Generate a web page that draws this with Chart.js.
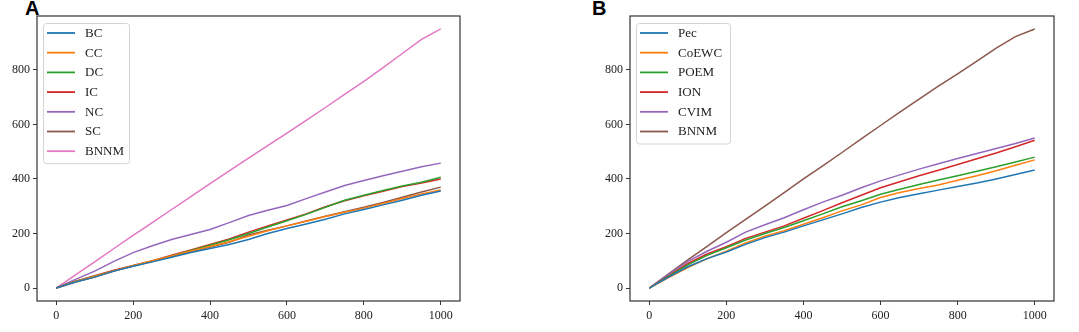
<!DOCTYPE html>
<html lang="en">
<head>
<meta charset="UTF-8">
<title>Cumulative curves A / B</title>
<script src="https://cdn.jsdelivr.net/npm/chart.js"></script>
<style>
  body { margin: 0; background: #fff; width: 1079px; height: 332px; position: relative; overflow: hidden; }
  .panel { position: absolute; top: 0; height: 332px; }
  #wrapA { left: 0; width: 540px; }
  #wrapB { left: 593px; width: 486px; }
  .tag { position: absolute; top: -3px; line-height: 23px; font: bold 20px "Liberation Sans", Arial, sans-serif; color: #000; }
</style>
</head>
<body>
<div class="tag" style="left:25px">A</div>
<div class="tag" style="left:592px">B</div>
<div class="panel" id="wrapA"><canvas id="chartA" width="540" height="332"></canvas></div>
<div class="panel" id="wrapB"><canvas id="chartB" width="486" height="332"></canvas></div>

<script>
// x positions (every 50 steps)
const steps = [0, 50, 100, 150, 200, 250, 300, 350, 400, 450, 500, 550, 600, 650, 700, 750, 800, 850, 900, 950, 1000];
const xTicks = [0, 200, 400, 600, 800, 1000];
const yTicks = [0, 200, 400, 600, 800];

// panel A
const labelsA = ['BC', 'CC', 'DC', 'IC', 'NC', 'SC', 'BNNM'];
const bcA   = [0, 22, 40, 62, 80, 96, 113, 130, 145, 160, 178, 200, 218, 235, 252, 272, 288, 305, 322, 340, 356];
const ccA   = [0, 23, 42, 63, 82, 100, 118, 136, 152, 170, 190, 210, 228, 245, 262, 278, 293, 310, 328, 345, 360];
const dcA   = [0, 24, 43, 63, 82, 98, 118, 138, 157, 177, 200, 224, 247, 270, 296, 322, 340, 358, 374, 388, 406];
const icA   = [0, 25, 45, 65, 83, 100, 120, 140, 160, 180, 205, 228, 250, 272, 298, 320, 338, 355, 372, 385, 400];
const ncA   = [0, 32, 62, 98, 130, 155, 178, 196, 215, 240, 266, 285, 303, 328, 352, 376, 394, 412, 428, 445, 458];
const scA   = [0, 22, 40, 62, 81, 98, 116, 134, 150, 168, 195, 212, 228, 246, 263, 280, 296, 314, 333, 352, 370];
const bnnmA = [0, 48, 96, 145, 193, 240, 288, 335, 383, 430, 476, 522, 568, 615, 662, 710, 758, 808, 860, 912, 950];

// panel B
const labelsB = ['Pec', 'CoEWC', 'POEM', 'ION', 'CVIM', 'BNNM'];
const pecB   = [0, 40, 78, 108, 132, 160, 185, 205, 228, 250, 272, 295, 315, 332, 346, 359, 372, 385, 400, 416, 433];
const coewcB = [0, 38, 75, 108, 135, 165, 190, 210, 234, 258, 283, 305, 332, 350, 365, 378, 395, 412, 430, 450, 470];
const poemB  = [0, 43, 85, 120, 148, 176, 200, 222, 247, 272, 298, 320, 344, 362, 380, 396, 412, 428, 445, 462, 480];
const ionB   = [0, 45, 90, 125, 152, 182, 205, 228, 256, 284, 313, 340, 368, 390, 412, 432, 453, 474, 495, 518, 542];
const cvimB  = [0, 50, 98, 135, 168, 205, 232, 258, 287, 315, 340, 368, 393, 415, 436, 456, 475, 493, 512, 530, 550];
const bnnmB  = [0, 52, 103, 153, 203, 252, 300, 350, 400, 448, 497, 547, 596, 645, 693, 740, 785, 832, 880, 922, 950];

const palette = ['#1f77b4', '#ff7f0e', '#2ca02c', '#d62728', '#9467bd', '#8c564b', '#e377c2'];
const serif = '"Liberation Serif", "Times New Roman", serif';

// box round the plot area
const frame = {
  id: 'frame',
  afterDraw(chart) {
    const a = chart.chartArea, ctx = chart.ctx;
    ctx.save();
    ctx.strokeStyle = '#333';
    ctx.lineWidth = 1.2;
    ctx.strokeRect(a.left, a.top, a.right - a.left, a.bottom - a.top);
    ctx.restore();
  }
};

// matplotlib-like legend in the upper left
const legendBox = {
  id: 'legendBox',
  afterDraw(chart, args, opts) {
    const ctx = chart.ctx, a = chart.chartArea;
    const sets = chart.data.datasets;
    const x0 = a.left + opts.dx, y0 = a.top + opts.dy;
    const rowH = 19.7;
    const h = 10 + (sets.length - 1) * rowH + 12;
    ctx.save();
    ctx.fillStyle = 'rgba(255,255,255,0.85)';
    ctx.strokeStyle = '#d4d4d4';
    ctx.lineWidth = 1;
    ctx.beginPath();
    ctx.roundRect(x0 + 0.5, y0 + 0.5, opts.width, h, 3);
    ctx.fill();
    ctx.stroke();
    ctx.font = '13px ' + serif;
    ctx.textBaseline = 'middle';
    sets.forEach((ds, i) => {
      const y = y0 + 10 + i * rowH;
      ctx.strokeStyle = ds.borderColor;
      ctx.lineWidth = 1.8;
      ctx.beginPath();
      ctx.moveTo(x0 + 4, y);
      ctx.lineTo(x0 + 32, y);
      ctx.stroke();
      ctx.fillStyle = '#222';
      ctx.fillText(ds.label, x0 + 42, y + 0.5);
    });
    ctx.restore();
  }
};

function makeChart(id, labels, series, padRight, legendW) {
  return new Chart(document.getElementById(id), {
    type: 'line',
    data: {
      datasets: series.map((vals, i) => ({
        label: labels[i],
        data: steps.map((x, j) => ({ x: x, y: vals[j] })),
        borderColor: palette[i],
        borderWidth: 1.5,
        pointRadius: 0,
        tension: 0,
        fill: false
      }))
    },
    options: {
      responsive: false,
      animation: false,
      layout: { padding: { left: 0, top: 16, right: padRight, bottom: 0 } },
      plugins: {
        legend: { display: false },
        tooltip: { enabled: false },
        legendBox: { dx: 6, dy: 7, width: legendW }
      },
      scales: {
        x: {
          type: 'linear',
          min: -50, max: 1050,
          afterBuildTicks: s => { s.ticks = xTicks.map(v => ({ value: v })); },
          afterFit: s => { s.height = 31; },
          grid: { display: true, drawOnChartArea: false, drawTicks: true, tickLength: 4, color: '#333' },
          border: { display: false },
          ticks: { padding: 4, maxRotation: 0, color: '#222', font: { family: serif, size: 12 }, callback: v => String(v) }
        },
        y: {
          type: 'linear',
          min: -47.5, max: 997.5,
          afterBuildTicks: s => { s.ticks = yTicks.map(v => ({ value: v })); },
          afterFit: s => { s.width = 37; },
          grid: { display: true, drawOnChartArea: false, drawTicks: true, tickLength: 4, color: '#333' },
          border: { display: false },
          ticks: { padding: 3, color: '#222', font: { family: serif, size: 12 }, callback: v => String(v) }
        }
      }
    },
    plugins: [frame, legendBox]
  });
}

makeChart('chartA', labelsA, [bcA, ccA, dcA, icA, ncA, scA, bnnmA], 80, 86);
makeChart('chartB', labelsB, [pecB, coewcB, poemB, ionB, cvimB, bnnmB], 25, 94);
</script>
</body>
</html>
